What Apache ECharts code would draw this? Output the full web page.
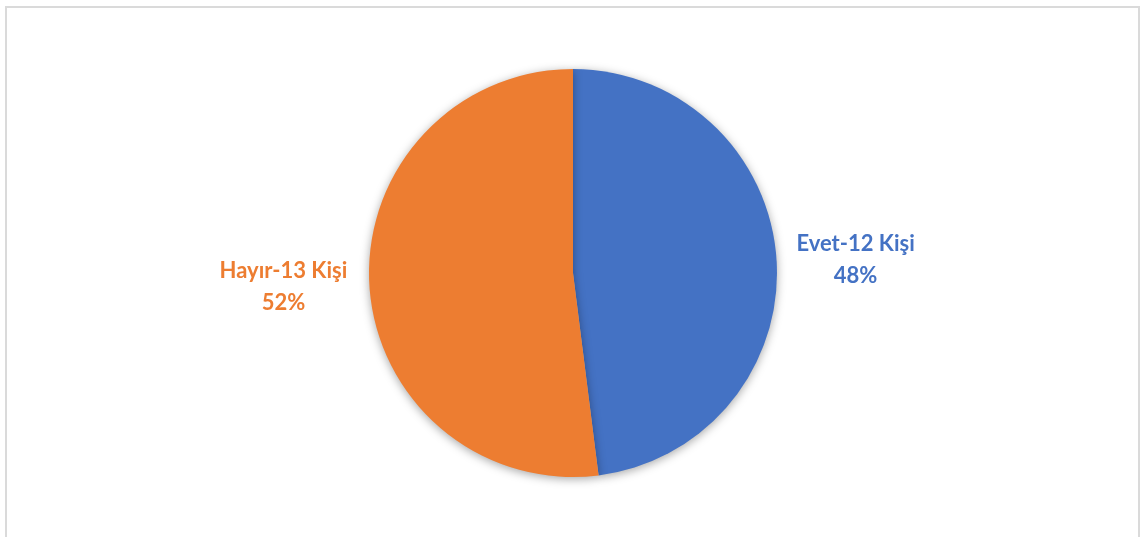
<!DOCTYPE html>
<html>
<head>
<meta charset="utf-8">
<script src="https://cdn.jsdelivr.net/npm/echarts@6/dist/echarts.min.js"></script>
<style>
  html, body { margin: 0; padding: 0; background: #ffffff; overflow: hidden; }
  #frame { position: absolute; left: 5px; top: 6px; width: 1131px; height: 600px; border: 2px solid #dadada; }
  #chart { position: absolute; left: 0; top: 0; width: 1140px; height: 537px; }
</style>
</head>
<body>
<div id="frame"></div>
<div id="chart"></div>
<script>
// Survey answers: count of people per answer
const answers = ['Evet', 'Hayır'];
const counts = [12, 13];
const percents = [48, 52];
const colors = ['#4472C4', '#ED7D31'];
const lineLengths = [10, 17];

const chart = echarts.init(document.getElementById('chart'), null, { renderer: 'canvas' });

const data = answers.map((name, i) => ({
  name: name,
  value: counts[i],
  itemStyle: { color: colors[i] },
  labelLine: { show: false, length: lineLengths[i], length2: 0 },
  label: {
    formatter: '{t|' + name + '-' + counts[i] + ' Kişi}\n{t|' + percents[i] + '%}',
    rich: {
      t: {
        color: colors[i],
        fontFamily: 'Lato, "Open Sans", sans-serif',
        fontWeight: 'bold',
        fontSize: 22,
        lineHeight: 32,
        width: 128,
        align: 'center'
      }
    }
  }
}));

chart.setOption({
  animation: false,
  series: [{
    type: 'pie',
    center: [573, 273],
    radius: [0, 204],
    startAngle: 90,
    clockwise: true,
    itemStyle: {
      shadowBlur: 10,
      shadowColor: 'rgba(0,0,0,0.35)',
      shadowOffsetY: 2
    },
    emphasis: { disabled: true },
    label: {
      show: true,
      position: 'outside',
      distanceToLabelLine: 5
    },
    labelLine: { show: false, length: 10, length2: 0 },
    data: data
  }]
});
</script>
</body>
</html>
